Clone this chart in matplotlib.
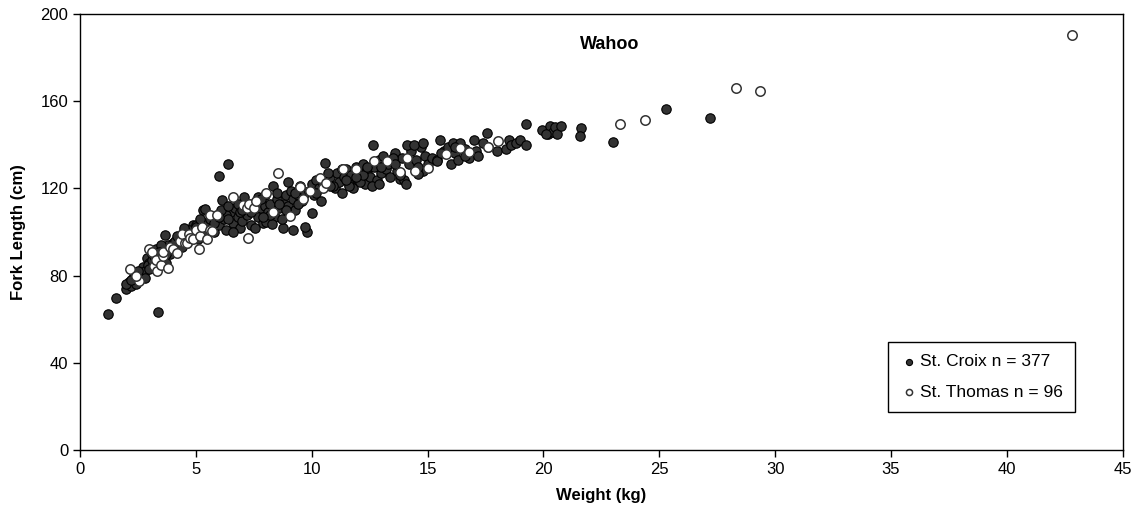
import matplotlib
matplotlib.use("Agg")
import matplotlib.pyplot as plt

plt.rcParams["font.family"] = ["Liberation Sans", "DejaVu Sans"]

# St. Croix (dark markers): weight (kg), fork length (cm)
croix_w = [1.2, 1.55, 2.0, 2.1, 2.2, 2.3, 2.4, 2.5, 2.0, 2.2,
           2.6, 2.7, 2.8, 2.9, 3.0, 2.5, 2.8, 2.95, 3.1,
           3.1, 3.3, 3.39, 3.5, 3.65, 3.7, 3.8, 3.9, 3.2, 3.5, 3.4, 3.3,
           4.0, 4.2, 4.3, 4.47, 4.6, 4.8, 4.9, 4.4, 4.7, 4.1, 4.5,
           5.0, 5.2, 5.3, 5.4, 5.6, 5.7, 5.8, 5.9, 5.1, 5.5, 5.03, 5.4,
           5.98, 6.37, 6.0, 6.13, 6.2, 6.3, 6.5, 6.6, 6.7, 6.8, 6.9, 6.3, 6.6, 6.1, 6.4,
           7.0, 7.2, 7.3, 7.4, 7.5, 7.6, 7.7, 7.8, 7.9, 8.0, 8.0, 8.1, 8.2,
           8.34, 8.4, 8.5, 8.5, 8.6, 8.77, 8.8, 8.9, 9.0, 9.0, 9.1, 9.2, 9.3,
           9.4, 9.5, 9.6, 9.7, 9.8, 9.9, 10.0, 10.0, 10.1, 10.2, 10.3, 10.4,
           10.5, 7.55, 8.05, 8.3, 9.2, 9.7, 7.1, 6.9, 7.7, 8.7,
           10.57, 10.8, 11.0, 11.1, 11.2, 11.3, 11.4, 11.5, 11.6, 11.7, 11.8,
           11.9, 12.0, 12.1, 12.2, 12.3, 12.4, 12.5, 12.65, 12.7, 12.8, 12.9,
           13.0, 13.1, 13.2, 13.3, 13.4, 13.5, 13.6, 13.7, 13.8, 13.9, 14.0,
           14.09, 14.2, 14.3, 14.1, 14.5, 14.7, 14.8, 14.9, 15.0, 11.6, 12.1,
           12.6, 13.5, 10.9, 11.3, 12.9, 13.8,
           14.4, 14.6, 14.8, 15.2, 15.4, 15.53, 15.7, 15.9, 16.0, 16.1, 16.2,
           16.3, 16.4, 16.6, 16.8, 17.0, 17.1, 17.2, 17.55, 17.6, 16.2, 15.4,
           18.0, 18.38, 18.5, 18.6, 18.8, 19.0, 19.27, 19.27,
           19.96, 20.2, 20.3, 20.4, 20.5, 20.6, 20.75, 20.1, 21.64, 21.57,
           23.0, 25.3, 27.2,
           4.5, 5.2, 5.8, 6.4, 6.8, 7.4, 7.8, 8.2, 8.9, 9.4, 10.2, 10.8,
           11.5, 12.2, 13.0, 13.6, 14.6, 15.6, 16.6, 17.4, 3.0, 2.4, 3.7, 4.2,
           6.0, 7.0, 7.9, 8.6, 9.3, 10.7, 11.9, 12.4]
croix_l = [62.5, 69.5, 74, 77, 75, 79, 76, 78, 76, 78,
           80, 84, 82, 88, 86, 82, 79, 85, 90,
           87, 92, 63.5, 88, 98.5, 86, 94, 90, 89, 94, 91, 85,
           95, 92, 97, 100.5, 95, 98, 103, 93, 101, 96, 98,
           103, 100, 110, 104, 106, 102, 100, 108, 97, 99, 102.5, 110.5,
           125.5, 131, 103, 114.5, 106, 101, 109, 104, 111, 107, 102, 108, 100, 110, 112,
           105, 108, 113, 103, 110, 114, 107, 111, 104, 112, 117, 109, 113,
           121, 107, 115, 118, 111, 102, 113, 117, 112, 123, 119, 115, 110,
           117, 121, 114, 118, 100, 119, 122, 108.5, 117, 124, 120, 114,
           122, 102, 104.5, 103.5, 101, 102.5, 116, 109, 116, 106,
           131.5, 125, 120, 127, 123, 118, 125, 129, 122, 126, 120,
           130, 124, 127, 131, 122, 128, 125, 140, 130, 124, 133,
           127, 135, 129, 131, 125, 133, 136, 128, 124.5, 134, 124,
           122, 131, 137, 140, 133, 139, 128, 135, 131, 121, 123,
           121, 134, 121, 129, 122, 126,
           140, 126.5, 141, 134, 133, 142, 137, 139, 131, 141, 136,
           133, 141, 138, 134, 142, 137, 135, 145.5, 139, 139, 132.5,
           137, 138, 142, 140, 141, 142, 149.5, 140,
           147, 145, 148.5, 146, 148, 145, 148.5, 144.8, 147.5, 144,
           141.5, 156.5, 152.5,
           102, 106, 104, 106, 113, 109, 115, 108, 110, 113, 118, 121,
           124, 126, 130, 131, 130, 136, 135, 141, 83, 80, 90, 98,
           107, 110, 107, 113, 118, 127, 125, 130]

# St. Thomas (open markers)
thomas_w = [2.16, 2.53, 2.4, 2.96, 3.1, 3.2, 3.32, 3.3, 3.5, 3.6, 3.6,
            3.82, 3.9, 4.0, 4.17, 4.3, 4.4, 4.53, 4.6, 4.7, 4.75, 4.9,
            5.0, 5.12, 5.2, 5.26, 5.5, 5.6, 5.6, 5.68, 5.9, 6.6, 7.05,
            7.2, 7.3, 7.5, 7.6, 7.26, 8.05, 8.34, 8.56, 9.06, 9.5, 9.63,
            9.92, 10.35, 10.5, 10.64, 11.36, 11.93, 12.68, 13.26, 13.8,
            14.1, 14.45, 15.03, 15.8, 16.4, 16.8, 17.6, 18.05,
            23.3, 24.37, 28.3, 29.33, 42.8]
thomas_l = [82.8, 77.4, 80, 92.3, 91, 84.5, 82, 87, 85, 89, 91,
            83.5, 93, 92, 90.4, 96, 99, 95, 95, 99, 97.4, 97,
            101, 92.4, 98, 102.4, 97, 101, 108, 100.4, 108, 116.2, 112.6,
            111, 113, 111, 114, 97.3, 118, 109, 126.9, 107.3, 120.5, 115,
            118.8, 124.9, 120, 122.6, 129, 129, 132.6, 132.6, 127.5,
            134, 128, 129.5, 135.6, 138.3, 136.7, 139, 141.8,
            149.7, 151.4, 166, 164.6, 190.3]

fig = plt.figure(figsize=(11.34, 5.17), dpi=100)
ax = fig.add_axes([0.0705, 0.1296, 0.9195, 0.8434])

ax.scatter(croix_w, croix_l, s=46, facecolor="#333333", edgecolor="black",
           linewidth=0.8, label="St. Croix n = 377", zorder=3)
ax.scatter(thomas_w, thomas_l, s=46, facecolor="white", edgecolor="#333333",
           linewidth=1.1, label="St. Thomas n = 96", zorder=4)

ax.set_xlim(0, 45)
ax.set_ylim(0, 200)
ax.set_xticks(range(0, 46, 5))
ax.set_yticks(range(0, 201, 40))
ax.tick_params(direction="out", length=5, width=1, labelsize=12)
for sp in ax.spines.values():
    sp.set_linewidth(1)
    sp.set_color("black")

ax.set_xlabel("Weight (kg)", fontsize=12, fontweight="bold", labelpad=8)
ax.set_ylabel("Fork Length (cm)", fontsize=12, fontweight="bold", labelpad=10)
ax.text(0.508, 0.929, "Wahoo", transform=ax.transAxes, ha="center",
        va="center", fontsize=13, fontweight="bold")

leg = ax.legend(loc="upper right", bbox_to_anchor=(0.954, 0.248),
                borderaxespad=0, fontsize=12.5, frameon=True, fancybox=False,
                edgecolor="black", framealpha=1, handletextpad=0.1,
                markerscale=0.65, labelspacing=0.9, borderpad=0.7,
                handlelength=1.0)
leg.get_frame().set_linewidth(1)

fig.savefig("out.png", dpi=100)
